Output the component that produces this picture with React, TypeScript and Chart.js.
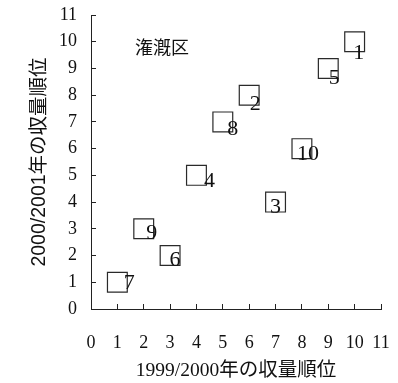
import React, { useEffect, useRef } from "react";
import { Chart, registerables } from "chart.js";

Chart.register(...registerables);

// Field numbers and their yield ranks
const fieldLabels = ["1", "2", "3", "4", "5", "6", "7", "8", "9", "10"];
const rank1999 = [10, 6, 7, 4, 9, 3, 1, 5, 2, 8];
const rank2000 = [10, 8, 4, 5, 9, 2, 1, 7, 3, 6];
const axisMin = 0;
const axisMax = 11;
const panelTitle = "潅漑区";
const xTitle = "1999/2000年の収量順位";
const yTitle = "2000/2001年の収量順位";

// Style only: pixel offset of each field label from its marker centre
const labelOffsetX = [4, 6, 0, 13, 6, 5, 12, 10, 8, 6];
const labelOffsetY = [11, 9, 5, 6, 10, 5, 1, 7, 4, 6];

const FONT = "'Liberation Serif', 'Noto Sans CJK JP', serif";
const SANS_FONT = "'Liberation Sans', 'Noto Sans CJK JP', sans-serif";

const labelPlugin = {
  id: "pointLabels",
  afterDatasetsDraw(chart: any) {
    const ctx = chart.ctx;
    const meta = chart.getDatasetMeta(0);
    ctx.save();
    ctx.fillStyle = "#111";
    ctx.font = `22px ${FONT}`;
    ctx.textAlign = "center";
    ctx.textBaseline = "middle";
    meta.data.forEach((el: any, i: number) => {
      ctx.fillText(fieldLabels[i], el.x + labelOffsetX[i], el.y + labelOffsetY[i]);
    });
    ctx.restore();
  },
};

const panelTitlePlugin = {
  id: "panelTitle",
  afterDraw(chart: any) {
    const { ctx, chartArea } = chart;
    ctx.save();
    ctx.fillStyle = "#111";
    ctx.font = `18px ${FONT}`;
    ctx.textAlign = "left";
    ctx.textBaseline = "middle";
    ctx.fillText(panelTitle, chartArea.left + 44, chartArea.top + 34);
    ctx.restore();
  },
};

const clearPadding = (s: any) => {
  s.paddingTop = 0;
  s.paddingBottom = 0;
  s.paddingLeft = 0;
  s.paddingRight = 0;
};

export default function App() {
  const ref = useRef<HTMLCanvasElement | null>(null);

  useEffect(() => {
    if (!ref.current) return;
    const chart = new Chart(ref.current, {
      type: "scatter",
      data: {
        datasets: [
          {
            data: rank1999.map((x, i) => ({ x, y: rank2000[i] })),
            pointStyle: "rect",
            pointRadius: 14,
            pointHoverRadius: 14,
            pointBorderColor: "#2a2a2a",
            pointBorderWidth: 1.2,
            pointBackgroundColor: "rgba(0,0,0,0)",
          },
        ],
      },
      options: {
        animation: false,
        responsive: false,
        events: [],
        layout: { autoPadding: false, padding: { top: 15, right: 17, left: 0, bottom: 0 } },
        plugins: { legend: { display: false }, tooltip: { enabled: false } },
        scales: {
          x: {
            type: "linear",
            min: axisMin,
            max: axisMax,
            ticks: {
              stepSize: 1,
              color: "#111",
              font: { family: FONT, size: 18 },
              padding: 28,
            },
            grid: { drawOnChartArea: false, tickLength: -5, color: "#222", lineWidth: 1 },
            border: { color: "#222", width: 1 },
            title: {
              display: true,
              text: xTitle,
              color: "#111",
              font: { family: FONT, size: 19.5 },
              padding: { top: 0, bottom: 0 },
            },
            afterFit: (s: any) => {
              s.height = 74;
              clearPadding(s);
            },
          },
          y: {
            type: "linear",
            min: axisMin,
            max: axisMax,
            ticks: {
              stepSize: 1,
              color: "#111",
              font: { family: FONT, size: 18 },
              padding: 19,
            },
            grid: { drawOnChartArea: false, tickLength: -5, color: "#222", lineWidth: 1 },
            border: { color: "#222", width: 1 },
            title: {
              display: true,
              text: yTitle,
              color: "#111",
              font: { family: SANS_FONT, size: 19.5 },
              padding: { top: 28, bottom: 0 },
            },
            afterFit: (s: any) => {
              s.width = 91;
              clearPadding(s);
            },
          },
        },
      },
      plugins: [labelPlugin, panelTitlePlugin],
    });
    return () => chart.destroy();
  }, []);

  return (
    <div style={{ position: "absolute", left: 0, top: 0, width: 398, height: 383, background: "#fff" }}>
      <canvas ref={ref} width={398} height={383} />
    </div>
  );
}
